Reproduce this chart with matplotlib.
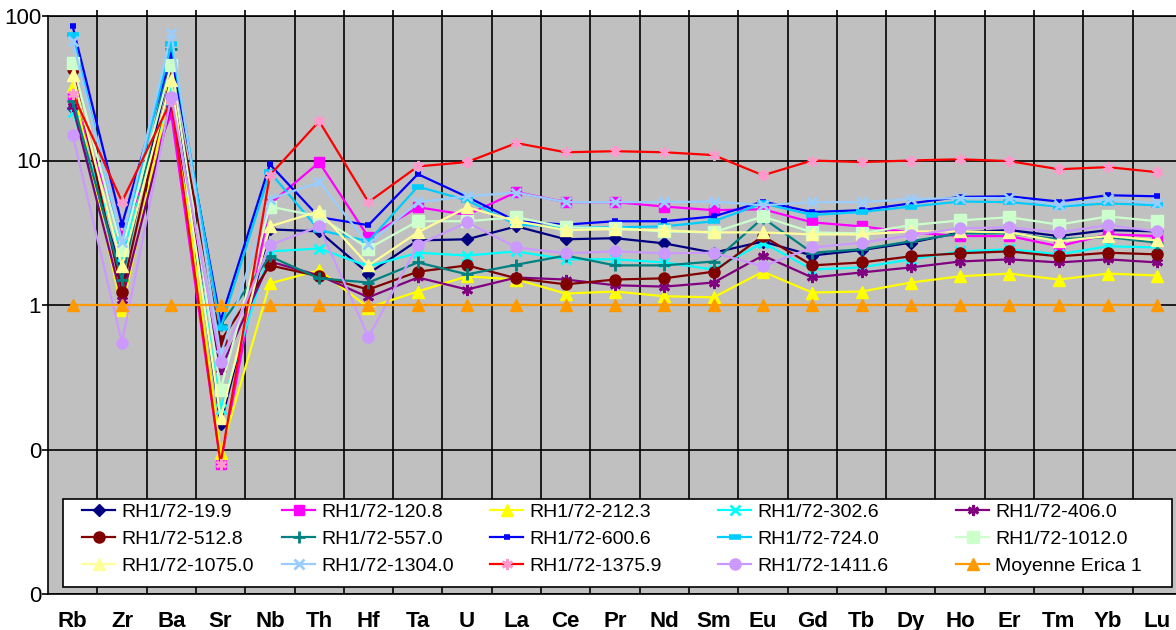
import matplotlib
matplotlib.use('Agg')
import matplotlib.pyplot as plt
from matplotlib.patches import Rectangle
from matplotlib.legend import Legend

plt.rcParams['font.family'] = ['Liberation Sans', 'DejaVu Sans']

elements = ['Rb', 'Zr', 'Ba', 'Sr', 'Nb', 'Th', 'Hf', 'Ta', 'U', 'La', 'Ce', 'Pr',
            'Nd', 'Sm', 'Eu', 'Gd', 'Tb', 'Dy', 'Ho', 'Er', 'Tm', 'Yb', 'Lu']

# valeurs normalisees
rh_19_9 = [23, 1.63, 48, 0.15, 3.34, 3.23, 1.65, 2.8, 2.85, 3.5, 2.85, 2.9, 2.67, 2.3, 2.75, 2.2, 2.4, 2.7, 3.18, 3.3, 3.0, 3.3, 3.23]
rh_120_8 = [27.5, 3.0, 21, 0.08, 5.0, 9.7, 2.94, 4.75, 4.2, 6.05, 5.15, 5.15, 4.8, 4.53, 4.6, 3.73, 3.5, 3.18, 3.0, 3.0, 2.55, 3.08, 3.0]
rh_212_3 = [33, 0.93, 34, 0.095, 1.41, 1.74, 0.96, 1.24, 1.58, 1.5, 1.2, 1.24, 1.15, 1.13, 1.7, 1.22, 1.24, 1.43, 1.58, 1.65, 1.5, 1.65, 1.6]
rh_302_6 = [21.7, 2.2, 31, 0.19, 2.35, 2.46, 1.85, 2.3, 2.2, 2.35, 2.07, 2.07, 1.97, 1.76, 2.7, 1.76, 1.82, 2.07, 2.35, 2.43, 2.24, 2.55, 2.5]
rh_406_0 = [24, 1.09, 24.5, 0.36, 2.0, 1.6, 1.13, 1.55, 1.28, 1.55, 1.5, 1.37, 1.34, 1.43, 2.2, 1.55, 1.68, 1.82, 2.0, 2.07, 1.97, 2.07, 1.97]
rh_512_8 = [43, 1.24, 39, 0.56, 1.88, 1.58, 1.28, 1.7, 1.88, 1.53, 1.39, 1.5, 1.53, 1.7, 3.0, 1.88, 1.97, 2.17, 2.28, 2.35, 2.17, 2.3, 2.24]
rh_557_0 = [26, 1.48, 59, 0.73, 2.17, 1.53, 1.43, 1.97, 1.63, 1.9, 2.2, 1.88, 1.88, 2.0, 4.0, 2.3, 2.43, 2.76, 3.13, 3.13, 2.85, 2.95, 2.7]
rh_600_6 = [85, 3.6, 54, 0.78, 9.4, 4.05, 3.57, 8.05, 5.6, 3.8, 3.6, 3.8, 3.8, 4.1, 5.2, 4.4, 4.53, 5.05, 5.6, 5.65, 5.2, 5.75, 5.65]
rh_724_0 = [74, 2.6, 64, 0.69, 8.3, 3.3, 2.76, 6.6, 5.3, 3.6, 3.45, 3.45, 3.5, 3.8, 5.05, 4.2, 4.4, 4.8, 5.2, 5.15, 4.8, 5.05, 4.9]
rh_1012_0 = [47, 2.4, 46, 0.26, 4.8, 4.1, 2.46, 3.8, 3.8, 4.05, 3.45, 3.4, 3.23, 3.18, 4.1, 3.18, 3.13, 3.57, 3.85, 4.05, 3.6, 4.1, 3.8]
rh_1075_0 = [39, 1.85, 36, 0.165, 3.5, 4.45, 1.88, 3.18, 4.75, 3.8, 3.3, 3.35, 3.28, 3.18, 3.18, 3.08, 3.08, 3.23, 3.23, 3.18, 2.76, 3.0, 2.8]
rh_1304_0 = [67, 2.75, 76, 0.45, 5.4, 7.1, 2.63, 5.15, 5.65, 6.0, 5.15, 5.15, 5.15, 5.2, 4.9, 5.15, 5.15, 5.4, 5.5, 5.5, 4.9, 5.4, 5.05]
rh_1375_9 = [29, 5.2, 26, 0.08, 7.9, 18.7, 5.15, 9.1, 9.75, 13.2, 11.4, 11.6, 11.4, 10.9, 7.9, 10, 9.75, 10, 10.2, 9.9, 8.7, 9.0, 8.3]
rh_1411_6 = [15, 0.55, 27.6, 0.405, 2.6, 3.5, 0.6, 2.6, 3.73, 2.5, 2.28, 2.35, 2.28, 2.3, 1.85, 2.5, 2.7, 3.03, 3.4, 3.45, 3.18, 3.57, 3.23]
moyenne_erica = [1] * 23

labels = ['RH1/72-19.9', 'RH1/72-120.8', 'RH1/72-212.3', 'RH1/72-302.6', 'RH1/72-406.0',
          'RH1/72-512.8', 'RH1/72-557.0', 'RH1/72-600.6', 'RH1/72-724.0', 'RH1/72-1012.0',
          'RH1/72-1075.0', 'RH1/72-1304.0', 'RH1/72-1375.9', 'RH1/72-1411.6', 'Moyenne Erica 1']
series = [rh_19_9, rh_120_8, rh_212_3, rh_302_6, rh_406_0, rh_512_8, rh_557_0, rh_600_6,
          rh_724_0, rh_1012_0, rh_1075_0, rh_1304_0, rh_1375_9, rh_1411_6, moyenne_erica]

star = (6, 2, 0)
# (couleur ligne, couleur marqueur, marqueur, taille, epaisseur bord)
styles = [
    ('#000080', '#000080', 'D', 6, 1),
    ('#FF00FF', '#FF00FF', 's', 7, 1),
    ('#FFFF00', '#FFFF00', '^', 8, 1),
    ('#00FFFF', '#00FFFF', 'x', 7, 2),
    ('#800080', '#800080', star, 8, 2),
    ('#800000', '#800000', 'o', 8, 1),
    ('#008080', '#008080', '+', 8, 2),
    ('#0000FF', '#0000FF', '_', 5, 4),
    ('#00CCFF', '#00CCFF', '_', 9, 4),
    ('#CCFFCC', '#CCFFCC', 's', 8, 1),
    ('#FFFF99', '#FFFF99', '^', 8, 1),
    ('#99CCFF', '#99CCFF', 'x', 7, 2),
    ('#FF0000', '#FF99CC', star, 8, 2),
    ('#CC99FF', '#CC99FF', 'o', 8, 1),
    ('#FF9900', '#FF9900', '^', 8, 1),
]

W, H = 1176, 630
fig = plt.figure(figsize=(W / 100, H / 100), dpi=100)
ax = fig.add_axes([48 / W, (H - 594) / H, (1182 - 48) / W, (594 - 16) / H])
ax.set_facecolor('#C0C0C0')

x = list(range(len(elements)))
lines = []
for lab, vals, st in zip(labels, series, styles):
    lc, mc, mk, ms, mew = st
    ln, = ax.plot(x, vals, color=lc, lw=1.6, marker=mk, markersize=ms,
                  markerfacecolor=mc, markeredgecolor=mc, markeredgewidth=mew, label=lab)
    lines.append(ln)

ax.set_yscale('log')
ax.set_ylim(0.01, 100)
ax.set_xlim(-0.5, len(elements) - 0.5)

ax.set_yticks([0.01, 0.1, 1, 10, 100])
ax.set_yticklabels(['0', '0', '1', '10', '100'])
ax.yaxis.set_minor_locator(matplotlib.ticker.NullLocator())
ax.tick_params(axis='y', which='major', direction='out', length=4, width=1.2, pad=1, labelsize=16)

ax.set_xticks(x)
ax.set_xticklabels(elements, fontweight='bold', fontsize=16)
ax.tick_params(axis='x', which='major', length=0, pad=12)
ax.set_xticks([i - 0.5 for i in range(1, len(elements))], minor=True)
ax.tick_params(axis='x', which='minor', top=True, bottom=False, direction='out', length=4, width=1.2)

ax.grid(True, which='major', axis='y', color='black', lw=1.2)
ax.grid(True, which='minor', axis='x', color='black', lw=1.2)
ax.set_axisbelow(True)
for s in ax.spines.values():
    s.set_linewidth(1.2)
ax.spines['right'].set_visible(False)

# cadre de la legende
box = Rectangle((63 / W, (H - 587) / H), (1172 - 63) / W, (587 - 499) / H, transform=fig.transFigure,
                facecolor='white', edgecolor='black', lw=1.2, zorder=4.9, clip_on=False)
ax.add_patch(box)

# une legende par colonne pour placer les colonnes comme dans Excel
col_x = [82, 282, 490, 718, 956]
for c in range(5):
    hs = lines[c::5]
    leg = Legend(ax, hs, [h.get_label() for h in hs], loc='upper left',
                 bbox_to_anchor=(col_x[c] / W, (H - 503) / H), bbox_transform=fig.transFigure,
                 frameon=False, fontsize=14, borderpad=0, borderaxespad=0,
                 handlelength=1.7, handletextpad=0.3, labelspacing=0.5, numpoints=1)
    ax.add_artist(leg)

fig.savefig('out.png', dpi=100)
